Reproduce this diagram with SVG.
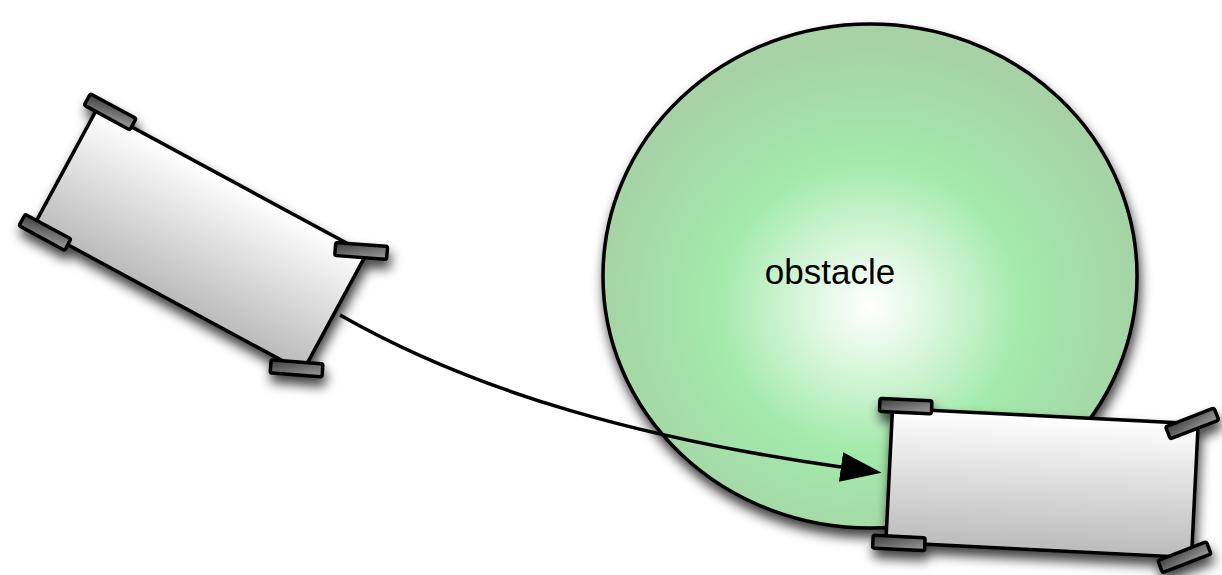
<svg xmlns="http://www.w3.org/2000/svg" width="1222" height="575" viewBox="0 0 1222 575">
  <defs>
    <style>
      .outline { stroke: #000; stroke-width: 3.5; stroke-linejoin: round; }
      .body { fill: url(#bodyFill); }
      .wheel { fill: url(#wheelFill); }
      .obstacle { fill: url(#obstacleFill); stroke: #000; stroke-width: 3.5; }
      .label { font-family: "Liberation Sans", Arial, sans-serif; font-size: 35px; fill: #000; text-anchor: middle; }
      .path { fill: none; stroke: #000; stroke-width: 3.5; }
    </style>
    <radialGradient id="obstacleFill" cx="0.5" cy="0.56" r="0.52">
      <stop offset="0" stop-color="#ffffff"/>
      <stop offset="0.2" stop-color="#e0f8e2"/>
      <stop offset="0.55" stop-color="#a3eaab"/>
      <stop offset="1" stop-color="#a6d2a6"/>
    </radialGradient>
    <linearGradient id="bodyFill" x1="0" y1="0" x2="0" y2="1">
      <stop offset="0" stop-color="#ffffff"/>
      <stop offset="1" stop-color="#bbbbbb"/>
    </linearGradient>
    <linearGradient id="wheelFill" x1="0" y1="0" x2="1" y2="1">
      <stop offset="0" stop-color="#3c3c3c"/>
      <stop offset="1" stop-color="#a0a0a0"/>
    </linearGradient>
    <filter id="shadow" x="-20%" y="-20%" width="140%" height="150%">
      <feDropShadow dx="2" dy="8" stdDeviation="6" flood-color="#000" flood-opacity="0.75"/>
    </filter>
    <marker id="arrowHead" markerUnits="userSpaceOnUse" viewBox="0 0 41 30" markerWidth="41" markerHeight="30" refX="0" refY="15" orient="auto">
      <path d="M0,0 L41,15 L0,30 Z" fill="#000"/>
    </marker>
    <!-- one wheel, centred on its own origin -->
    <rect id="wheel" class="wheel outline" x="-26" y="-6.5" width="52" height="13" rx="2"/>
  </defs>

  <!-- obstacle -->
  <g id="obstacle">
    <ellipse class="obstacle" cx="870" cy="276" rx="267" ry="252" filter="url(#shadow)"/>
    <text class="label" x="830" y="284">obstacle</text>
  </g>

  <!-- robot, start pose -->
  <g id="robot-start" filter="url(#shadow)">
    <g transform="translate(200,240) rotate(28.4)">
      <rect class="body outline" x="-153" y="-67" width="306" height="134"/>
      <use href="#wheel" transform="translate(-140,-70)"/>
      <use href="#wheel" transform="translate(-140,67)"/>
      <use href="#wheel" transform="translate(147,-67) rotate(-24)"/>
      <use href="#wheel" transform="translate(146,67) rotate(-24)"/>
    </g>
  </g>

  <!-- robot, end pose -->
  <g id="robot-end" filter="url(#shadow)">
    <g transform="translate(1042,483) rotate(2.86)">
      <rect class="body outline" x="-153" y="-67" width="306" height="134"/>
      <use href="#wheel" transform="translate(-140,-70)"/>
      <use href="#wheel" transform="translate(-140,67)"/>
      <use href="#wheel" transform="translate(147,-67) rotate(-24)"/>
      <use href="#wheel" transform="translate(146,67) rotate(-24)"/>
    </g>
  </g>

  <!-- connectors -->
  <g id="connectors">
    <path class="path" d="M340,315 C480,395 650,440 841,467" marker-end="url(#arrowHead)"/>
  </g>
</svg>
